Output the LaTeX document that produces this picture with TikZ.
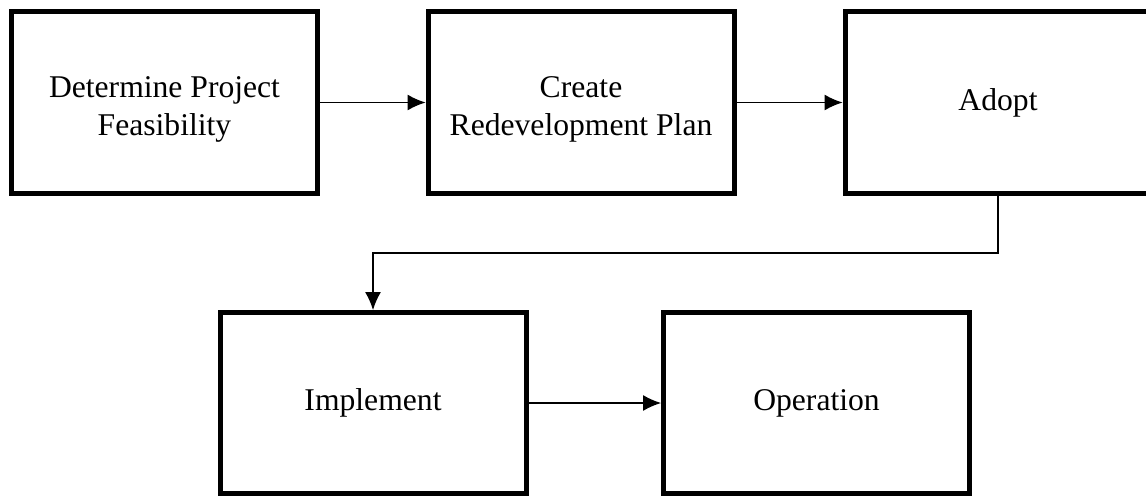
\documentclass[tikz,border=0pt]{standalone}
\usepackage{fontspec}
\setmainfont{Liberation Serif}
\usetikzlibrary{arrows.meta}
\tikzset{epais/.style={line width=1mm}}
\newcommand{\etape}[3]{\node[etape] (#1) at (#2) {#3}}
\newcommand{\haut}[0]{\rule{0pt}{20pt}}

\begin{document}
\begin{tikzpicture}[
	etape/.style = {draw, epais, minimum width=6.12cm, minimum height=3.62cm,
		align=center, inner sep=0pt, font=\fontsize{18}{21.6}\selectfont},
	fleche/.style = {line width=0.7pt, -{Latex[length=3.6mm,width=3.2mm]}}]
	\useasboundingbox (0,0) rectangle (22.92,-9.96);
%The first row
	\etape{faisabilite}{3.29,-2.05}{\haut Determine Project\\Feasibility};
	\etape{plan}{11.62,-2.05}{\haut Create\\Redevelopment Plan};
	\etape{adopt}{19.96,-2.05}{Adopt};
%The second row
	\etape{implement}{7.46,-8.06}{Implement};
	\etape{operation}{16.33,-8.06}{Operation};
%Links
	\draw[fleche] (faisabilite) -- (plan);
	\draw[fleche] (plan) -- (adopt);
	\coordinate (coude) at (19.96,-5.06);
	\draw[fleche] (adopt.south) -- (coude) -| (implement.north);
	\draw[fleche] (implement) -- (operation);
\end{tikzpicture}
\end{document}
